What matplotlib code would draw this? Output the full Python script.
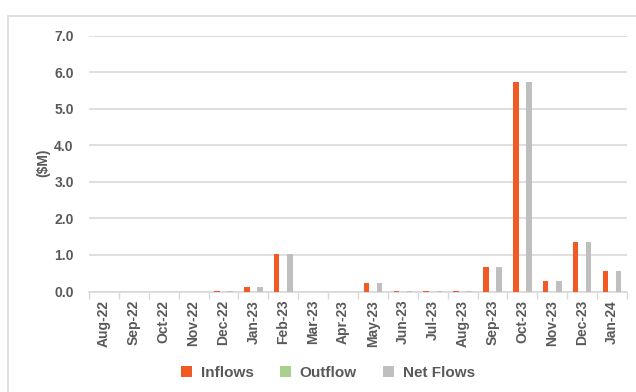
import matplotlib
matplotlib.use("Agg")
import matplotlib.pyplot as plt
import numpy as np
from matplotlib.patches import Rectangle

months = ["Aug-22", "Sep-22", "Oct-22", "Nov-22", "Dec-22", "Jan-23", "Feb-23",
          "Mar-23", "Apr-23", "May-23", "Jun-23", "Jul-23", "Aug-23", "Sep-23",
          "Oct-23", "Nov-23", "Dec-23", "Jan-24"]
inflows = [0, 0, 0, 0, 0.005, 0.11, 1.02, 0, 0, 0.23, 0.005, 0.005, 0.005, 0.68,
           5.74, 0.29, 1.35, 0.57]
outflow = [0] * 18
net_flows = [0, 0, 0, 0, 0.005, 0.11, 1.02, 0, 0, 0.23, 0.005, 0.005, 0.005, 0.68,
             5.74, 0.29, 1.35, 0.57]
yticks = [0, 1, 2, 3, 4, 5, 6, 7]

txt = "#595959"
grid = "#d9d9d9"
plt.rcParams['font.family'] = ['Liberation Sans Narrow', 'Liberation Sans', 'DejaVu Sans']

fig = plt.figure(figsize=(6.36, 3.92), dpi=100)
ax = fig.add_axes([89/636, 1 - 291.5/392, 538/636, 255.8/392])

x = np.arange(len(months))
w = 0.18
ax.bar(x - 0.22, inflows, w, color="#f15a24", label="Inflows", zorder=3)
ax.bar(x, outflow, w, color="#a9d18e", label="Outflow", zorder=3)
ax.bar(x + 0.22, net_flows, w, color="#bfbfbf", label="Net Flows", zorder=3)

ax.set_xlim(-0.5, len(months) - 0.5)
ax.set_ylim(0, 7)
ax.set_yticks(yticks)
ax.set_yticklabels(["%.1f" % v for v in yticks])
ax.yaxis.grid(True, color=grid, lw=1.2, zorder=0)
ax.set_axisbelow(True)

ax.set_xticks(x)
ax.set_xticklabels(months, rotation=90)
ax.set_xticks(np.arange(-0.5, len(months)), minor=True)
ax.tick_params(axis="x", which="major", length=0, pad=6)
ax.tick_params(axis="x", which="minor", length=5, color=grid, width=1)
ax.tick_params(axis="y", length=0, pad=11)
for lab in ax.get_xticklabels() + ax.get_yticklabels():
    lab.set_color(txt)
    lab.set_fontweight("bold")
    lab.set_fontsize(10)

for s in ["top", "right", "left"]:
    ax.spines[s].set_visible(False)
ax.spines["bottom"].set_color(grid)
ax.spines["bottom"].set_linewidth(1.2)

fig.text(43/636, 1 - 163/392, "($M)", rotation=90, ha="center", va="center",
         color=txt, fontweight="bold", fontsize=10)

leg = fig.legend(loc="center", bbox_to_anchor=(328/636, 1 - 373/392), ncol=3,
                 frameon=False, handlelength=0.7, handleheight=0.7,
                 handletextpad=0.6, columnspacing=1.7,
                 prop={"weight": "bold", "size": 11})
for t in leg.get_texts():
    t.set_color(txt)

fig.add_artist(Rectangle((8/636, -0.1), 1.0, (392 - 16)/392 + 0.1,
                         transform=fig.transFigure, fill=False,
                         edgecolor=grid, lw=1.2))

fig.savefig("out.png", dpi=100)
